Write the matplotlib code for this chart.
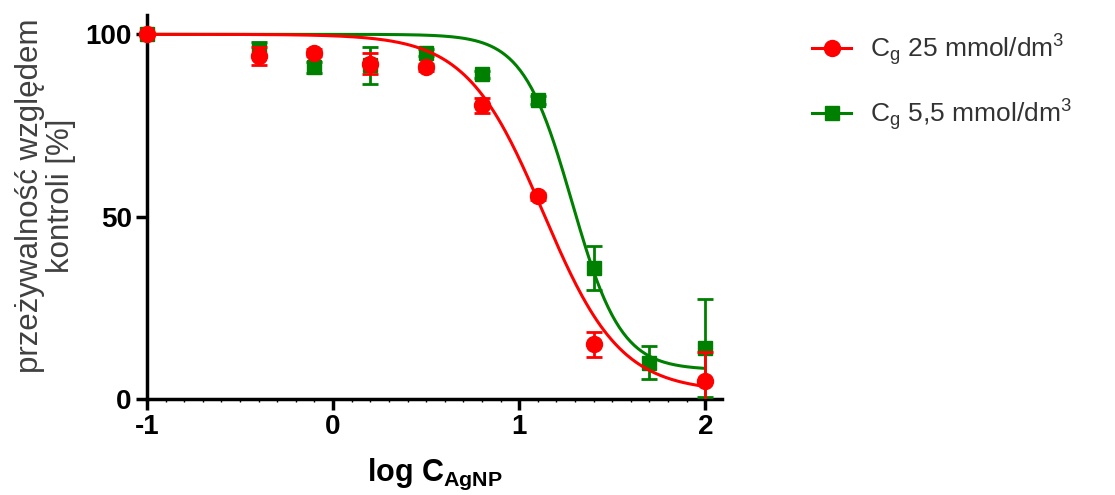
import numpy as np
import matplotlib
matplotlib.use("Agg")
import matplotlib.pyplot as plt
from matplotlib.ticker import MultipleLocator

plt.rcParams['font.family'] = ['Liberation Sans', 'DejaVu Sans']
plt.rcParams['mathtext.fontset'] = 'custom'
plt.rcParams['mathtext.rm'] = 'Liberation Sans'
plt.rcParams['mathtext.it'] = 'Liberation Sans'
plt.rcParams['mathtext.bf'] = 'Liberation Sans:bold'
plt.rcParams['axes.unicode_minus'] = False

# data
log_c = [-1.0, -0.4, -0.1, 0.2, 0.5, 0.8, 1.1, 1.4, 1.7, 2.0]

red_y = [100, 94, 95, 92, 91, 80.5, 55.6, 15, None, 5]
red_err = [0, 2.5, 1, 3, 1, 2, 1, 3.5, None, 8]

green_y = [100, 96, 91, 91.5, 95, 89, 82, 36, 10, 14]
green_err = [0, 2, 1.5, 5, 1, 1, 1, 6, 4.5, 13.5]

# 4PL fit parameters (top, bottom, logIC50, hill)
red_fit = (100, 2, 1.13, 2.1)
green_fit = (100, 8, 1.284, 3.3)

red_label = 'C$_\\mathrm{g}$ 25 mmol/dm$^3$'
green_label = 'C$_\\mathrm{g}$ 5,5 mmol/dm$^3$'


def fourpl(x, top, bottom, c, h):
    return bottom + (top - bottom) / (1 + 10 ** ((x - c) * h))


fig = plt.figure(figsize=(11.15, 4.95), dpi=100)
ax = fig.add_axes([147 / 1115, 96 / 495, 575 / 1115, 384 / 495])

xs = np.linspace(-1, 2, 300)

series = [
    (red_y, red_err, red_fit, '#ff0000', 'o', 11.5, red_label, 5),
    (green_y, green_err, green_fit, '#008000', 's', 10.5, green_label, 4),
]
for yv, ev, fit, col, mk, ms, lab, z in series:
    xx = [x for x, y in zip(log_c, yv) if y is not None]
    yy = [y for y in yv if y is not None]
    ee = [e for e in ev if e is not None]
    ax.errorbar(xx, yy, yerr=ee, fmt='none', ecolor=col, elinewidth=2,
                capsize=6, capthick=2, zorder=z)
    ax.plot(xx, yy, ls='none', marker=mk, ms=ms, color=col, clip_on=False, zorder=z)
    ax.plot(xs, fourpl(xs, *fit), color=col, lw=2.2, zorder=z)
    ax.plot([], [], color=col, marker=mk, ms=ms, lw=2.2, label=lab)

ax.set_xlim(-1, 2.09)
ax.set_ylim(0, 105.3)
ax.set_xticks([-1, 0, 1, 2])
ax.set_yticks([0, 50, 100])
ax.xaxis.set_minor_locator(MultipleLocator(0.1))

for s in ['top', 'right']:
    ax.spines[s].set_visible(False)
for s in ['left', 'bottom']:
    ax.spines[s].set_linewidth(2.5)

ax.tick_params(which='major', length=8, width=2.5, labelsize=20, pad=3)
ax.tick_params(which='minor', length=2.5, width=1)
for t in ax.get_xticklabels() + ax.get_yticklabels():
    t.set_fontweight('bold')

ax.set_xlabel('log C$_\\mathbf{AgNP}$', fontsize=22, fontweight='bold', labelpad=12)
ax.set_ylabel('przeżywalność względem\nkontroli [%]', fontsize=22.5, color='#404040',
              linespacing=1.05)
ax.yaxis.set_label_coords(-0.124, 0.53)

leg = fig.legend(loc='upper left', bbox_to_anchor=(788 / 1115, 1 - 8 / 495),
                 frameon=False, fontsize=19, handlelength=1.5, labelspacing=1.1,
                 handletextpad=0.7)
for t in leg.get_texts():
    t.set_color('#333333')

fig.savefig('out.png', dpi=100)
